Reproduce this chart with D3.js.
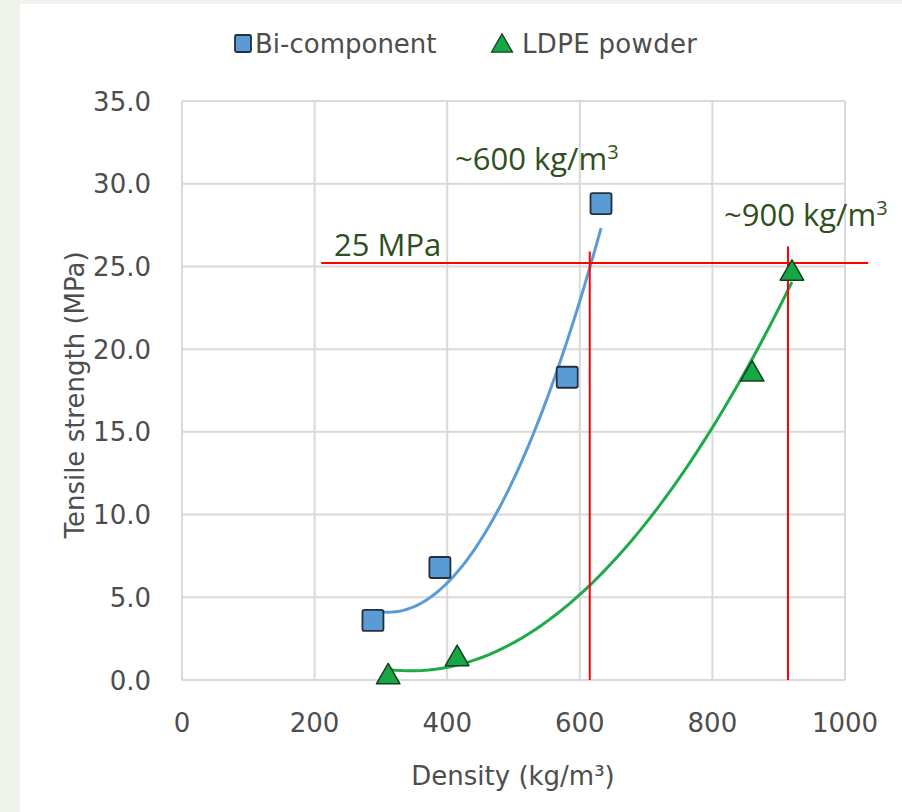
<!DOCTYPE html>
<html>
<head>
<meta charset="utf-8">
<script src="https://cdn.jsdelivr.net/npm/d3@7"></script>
<style>
  body { margin: 0; background: #eff2eb; }
  svg { display: block; }
</style>
</head>
<body>
<div id="chart"></div>
<script>
// values
const seriesNames = ['Bi-component', 'LDPE powder'];
const biDensity = [288, 389, 581, 632];
const biStrength = [3.6, 6.8, 18.3, 28.8];
const ldpeDensity = [311, 415, 860, 920];
const ldpeStrength = [0.3, 1.4, 18.6, 24.7];
const xTicks = [0, 200, 400, 600, 800, 1000];
const yTicks = [0, 5, 10, 15, 20, 25, 30, 35];

// red guide lines
const guideStrength = 25.2;
const guideRange = [210, 1035];
const guideDensity = [615, 914];
const guideTop = [25.9, 26.2];
const notes = ['~600 kg/m', '25 MPa', '~900 kg/m'];
const noteSup = ['3', '', '3'];

const W = 902, H = 812;
const margin = { top: 101, right: 57, bottom: 132, left: 182 };

const svg = d3.select('#chart').append('svg')
  .attr('width', W)
  .attr('height', H);

// white panel with light frame strip on the left / top
svg.append('rect')
  .attr('x', 20).attr('y', 4)
  .attr('width', W - 20).attr('height', H - 4)
  .attr('fill', '#fff');

const x = d3.scaleLinear().domain([0, 1000]).range([margin.left, W - margin.right]);
const y = d3.scaleLinear().domain([0, 35]).range([H - margin.bottom, margin.top]);

const axisFont = 'DejaVu Sans, sans-serif';
const grey = '#4d4d4d';

// gridlines
svg.append('g')
  .selectAll('line.v')
  .data(xTicks)
  .join('line')
  .attr('x1', d => x(d)).attr('x2', d => x(d))
  .attr('y1', y(0)).attr('y2', y(35))
  .attr('stroke', '#d9d9d9').attr('stroke-width', 2);

svg.append('g')
  .selectAll('line.h')
  .data(yTicks)
  .join('line')
  .attr('x1', x(0)).attr('x2', x(1000))
  .attr('y1', d => y(d)).attr('y2', d => y(d))
  .attr('stroke', '#d9d9d9').attr('stroke-width', 2);

// tick labels
svg.append('g')
  .selectAll('text')
  .data(yTicks)
  .join('text')
  .attr('x', x(0) - 31)
  .attr('y', d => y(d) + 9.5)
  .attr('text-anchor', 'end')
  .attr('font-family', axisFont).attr('font-size', 26).attr('fill', grey)
  .text(d3.format('.1f'));

svg.append('g')
  .selectAll('text')
  .data(xTicks)
  .join('text')
  .attr('x', d => x(d))
  .attr('y', y(0) + 52)
  .attr('text-anchor', 'middle')
  .attr('font-family', axisFont).attr('font-size', 26).attr('fill', grey)
  .text(d => d);

// axis titles
svg.append('text')
  .attr('x', 513).attr('y', 785)
  .attr('text-anchor', 'middle')
  .attr('font-family', axisFont).attr('font-size', 26).attr('fill', grey)
  .text('Density (kg/m³)');

svg.append('text')
  .attr('transform', 'translate(84,395) rotate(-90)')
  .attr('text-anchor', 'middle')
  .attr('font-family', axisFont).attr('font-size', 26).attr('fill', grey)
  .text('Tensile strength (MPa)');

// quadratic least-squares trendline like the spreadsheet one
function polyFit(xs, ys) {
  const m = d3.mean(xs);
  const u = xs.map(v => v - m);
  const s = k => d3.sum(u, v => Math.pow(v, k));
  const t = k => d3.sum(u, (v, i) => Math.pow(v, k) * ys[i]);
  const A = [[s(0), s(1), s(2)], [s(1), s(2), s(3)], [s(2), s(3), s(4)]];
  const b = [t(0), t(1), t(2)];
  // gaussian elimination
  for (let i = 0; i < 3; i++) {
    for (let j = i + 1; j < 3; j++) {
      const f = A[j][i] / A[i][i];
      for (let k = i; k < 3; k++) A[j][k] -= f * A[i][k];
      b[j] -= f * b[i];
    }
  }
  const c = [0, 0, 0];
  for (let i = 2; i >= 0; i--) {
    let r = b[i];
    for (let k = i + 1; k < 3; k++) r -= A[i][k] * c[k];
    c[i] = r / A[i][i];
  }
  return v => c[0] + c[1] * (v - m) + c[2] * (v - m) * (v - m);
}

const line = d3.line().x(d => x(d[0])).y(d => y(d[1]));

function trend(xs, ys, color) {
  const f = polyFit(xs, ys);
  const [lo, hi] = d3.extent(xs);
  const pts = d3.range(0, 61).map(i => {
    const v = lo + (hi - lo) * i / 60;
    return [v, f(v)];
  });
  svg.append('path')
    .attr('d', line(pts))
    .attr('fill', 'none')
    .attr('stroke', color)
    .attr('stroke-width', 3);
}

trend(biDensity, biStrength, '#5b9bd5');
trend(ldpeDensity, ldpeStrength, '#1faa4a');

// red guides
svg.append('line')
  .attr('x1', x(guideRange[0])).attr('x2', x(guideRange[1]))
  .attr('y1', y(guideStrength)).attr('y2', y(guideStrength))
  .attr('stroke', '#ff0000').attr('stroke-width', 2);

svg.append('g')
  .selectAll('line')
  .data(guideDensity)
  .join('line')
  .attr('x1', d => x(d)).attr('x2', d => x(d))
  .attr('y1', (d, i) => y(guideTop[i])).attr('y2', y(0))
  .attr('stroke', '#ff0000').attr('stroke-width', 2);

// markers
const sq = 21;
svg.append('g')
  .selectAll('rect')
  .data(d3.zip(biDensity, biStrength))
  .join('rect')
  .attr('x', d => x(d[0]) - sq / 2)
  .attr('y', d => y(d[1]) - sq / 2)
  .attr('width', sq).attr('height', sq)
  .attr('rx', 2)
  .attr('fill', '#5b9bd5')
  .attr('stroke', '#22303f').attr('stroke-width', 1.8);

const tri = d3.symbol().type(d3.symbolTriangle).size(240);
svg.append('g')
  .selectAll('path')
  .data(d3.zip(ldpeDensity, ldpeStrength))
  .join('path')
  .attr('d', tri)
  .attr('transform', d => `translate(${x(d[0])},${y(d[1]) + 2})`)
  .attr('fill', '#16a847')
  .attr('stroke', '#183d20').attr('stroke-width', 1.5)
  .attr('stroke-linejoin', 'round');

// legend
const legend = svg.append('g').attr('font-family', axisFont).attr('font-size', 26).attr('fill', grey);
legend.append('rect')
  .attr('x', 235).attr('y', 35).attr('width', 16).attr('height', 17).attr('rx', 1.5)
  .attr('fill', '#5b9bd5').attr('stroke', '#22303f').attr('stroke-width', 1.8);
legend.append('text').attr('x', 255).attr('y', 53).text(seriesNames[0]);
legend.append('path')
  .attr('d', d3.symbol().type(d3.symbolTriangle).size(190))
  .attr('transform', 'translate(502,46)')
  .attr('fill', '#16a847').attr('stroke', '#183d20').attr('stroke-width', 1.3);
legend.append('text').attr('x', 522).attr('y', 53).attr('textLength', 175).text(seriesNames[1]);

// annotations
const noteFont = 'Open Sans, sans-serif';
const notePos = [[455, 170], [334, 256], [724, 226]];
const noteText = svg.append('g')
  .selectAll('text')
  .data(notes)
  .join('text')
  .attr('x', (d, i) => notePos[i][0])
  .attr('y', (d, i) => notePos[i][1])
  .attr('font-family', noteFont).attr('font-size', 31)
  .attr('fill', '#2f4f1c');
noteText.append('tspan').text(d => d);
noteText.append('tspan')
  .attr('font-size', 20)
  .attr('dy', -11)
  .text((d, i) => noteSup[i]);
</script>
</body>
</html>
